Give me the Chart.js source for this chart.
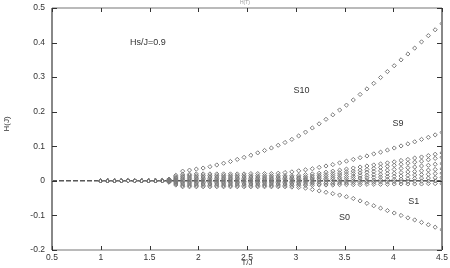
<!DOCTYPE html>
<html><head><meta charset="utf-8">
<script src="https://cdn.jsdelivr.net/npm/chart.js@4/dist/chart.umd.min.js"></script>
<style>html,body{margin:0;padding:0;background:#fff}#wrap{width:450px;height:268px}</style>
</head><body><div id="wrap"><canvas id="c" width="450" height="268"></canvas></div>
<script>
const T = [1.00,1.07,1.14,1.21,1.28,1.35,1.42,1.49,1.56,1.63,1.70,1.77,1.84,1.91,1.98,2.05,2.12,2.19,2.26,2.33,2.40,2.47,2.54,2.61,2.68,2.75,2.82,2.89,2.96,3.03,3.10,3.17,3.24,3.31,3.38,3.45,3.52,3.59,3.66,3.73,3.80,3.87,3.94,4.01,4.08,4.15,4.22,4.29,4.36,4.43,4.50];
const S10 = [0,0,0,0,0,0,0,0,0,0,0.005,0.016,0.028,0.031,0.034,0.037,0.041,0.046,0.051,0.056,0.062,0.068,0.074,0.081,0.088,0.095,0.103,0.111,0.12,0.13,0.141,0.153,0.165,0.178,0.191,0.205,0.219,0.234,0.25,0.266,0.282,0.299,0.316,0.333,0.35,0.367,0.384,0.402,0.42,0.437,0.455];
const S9 = [0,0,0,0,0,0,0,0,0,0,0.004,0.012,0.019,0.019,0.02,0.02,0.02,0.02,0.02,0.02,0.02,0.02,0.021,0.021,0.021,0.021,0.022,0.024,0.026,0.029,0.032,0.035,0.039,0.043,0.047,0.052,0.057,0.062,0.067,0.072,0.078,0.083,0.089,0.095,0.101,0.107,0.113,0.12,0.126,0.133,0.14];
const S8 = [0,0,0,0,0,0,0,0,0,0,0.003,0.009,0.014,0.015,0.015,0.015,0.015,0.015,0.015,0.015,0.015,0.015,0.015,0.015,0.015,0.015,0.015,0.015,0.015,0.016,0.018,0.02,0.022,0.025,0.028,0.031,0.034,0.037,0.04,0.043,0.046,0.049,0.052,0.055,0.059,0.062,0.066,0.069,0.073,0.077,0.081];
const S7 = [0,0,0,0,0,0,0,0,0,0,0.002,0.007,0.011,0.011,0.011,0.011,0.011,0.011,0.011,0.011,0.011,0.011,0.011,0.011,0.011,0.011,0.011,0.011,0.011,0.011,0.012,0.014,0.016,0.018,0.021,0.023,0.026,0.028,0.031,0.033,0.036,0.039,0.042,0.045,0.048,0.051,0.054,0.057,0.061,0.065,0.068];
const S6 = [0,0,0,0,0,0,0,0,0,0,0.001,0.004,0.007,0.007,0.007,0.007,0.007,0.007,0.007,0.007,0.007,0.007,0.007,0.007,0.007,0.007,0.007,0.007,0.007,0.007,0.008,0.009,0.011,0.013,0.015,0.017,0.019,0.021,0.023,0.025,0.027,0.029,0.031,0.033,0.036,0.038,0.04,0.043,0.045,0.048,0.05];
const S5 = [0,0,0,0,0,0,0,0,0,0,0.001,0.002,0.003,0.003,0.003,0.003,0.003,0.003,0.003,0.003,0.003,0.003,0.003,0.003,0.003,0.003,0.003,0.003,0.003,0.003,0.004,0.005,0.006,0.007,0.009,0.01,0.012,0.013,0.015,0.016,0.018,0.019,0.021,0.022,0.024,0.026,0.027,0.029,0.031,0.033,0.035];
const S4 = [0,0,0,0,0,0,0,0,0,0,0,-0.001,-0.001,-0.001,-0.001,-0.001,-0.001,-0.001,-0.001,-0.001,-0.001,-0.001,-0.001,-0.001,-0.001,-0.001,-0.001,-0.001,-0.001,-0.001,0,0.001,0.002,0.003,0.004,0.005,0.006,0.007,0.008,0.009,0.01,0.011,0.012,0.013,0.014,0.016,0.017,0.018,0.019,0.021,0.022];
const S3 = [0,0,0,0,0,0,0,0,0,0,-0.001,-0.003,-0.005,-0.005,-0.005,-0.005,-0.005,-0.005,-0.005,-0.005,-0.005,-0.005,-0.005,-0.005,-0.005,-0.005,-0.005,-0.005,-0.005,-0.005,-0.004,-0.004,-0.003,-0.003,-0.002,-0.001,-0.001,0,0.001,0.001,0.002,0.003,0.004,0.004,0.005,0.006,0.007,0.008,0.008,0.009,0.01];
const S2 = [0,0,0,0,0,0,0,0,0,0,-0.002,-0.006,-0.009,-0.009,-0.009,-0.009,-0.009,-0.009,-0.009,-0.009,-0.009,-0.009,-0.009,-0.009,-0.009,-0.009,-0.009,-0.009,-0.009,-0.009,-0.009,-0.008,-0.008,-0.007,-0.007,-0.006,-0.006,-0.005,-0.005,-0.004,-0.004,-0.003,-0.003,-0.002,-0.002,-0.002,-0.001,-0.001,-0.001,0,0];
const S1 = [0,0,0,0,0,0,0,0,0,0,-0.003,-0.009,-0.013,-0.013,-0.013,-0.013,-0.013,-0.013,-0.013,-0.013,-0.013,-0.013,-0.013,-0.013,-0.013,-0.013,-0.013,-0.013,-0.013,-0.013,-0.013,-0.013,-0.012,-0.012,-0.012,-0.011,-0.011,-0.011,-0.011,-0.01,-0.01,-0.01,-0.01,-0.009,-0.009,-0.009,-0.009,-0.009,-0.008,-0.008,-0.008];
const S0 = [0,0,0,0,0,0,0,0,0,0,-0.004,-0.012,-0.017,-0.017,-0.017,-0.017,-0.017,-0.017,-0.017,-0.017,-0.017,-0.017,-0.017,-0.017,-0.017,-0.017,-0.017,-0.017,-0.018,-0.019,-0.021,-0.025,-0.029,-0.033,-0.037,-0.041,-0.046,-0.051,-0.058,-0.065,-0.072,-0.079,-0.086,-0.093,-0.1,-0.107,-0.113,-0.12,-0.127,-0.134,-0.141];
const SERIES = [S0,S1,S2,S3,S4,S5,S6,S7,S8,S9,S10];
const X_TICKS = [0.5,1,1.5,2,2.5,3,3.5,4,4.5];
const Y_TICKS = [-0.2,-0.1,0,0.1,0.2,0.3,0.4,0.5];
const ZERO_LINE_X = [0.5,4.5];
const NOTES = [
  {text:'Hs/J=0.9', x:1.3, y:0.40, align:'left'},
  {text:'S10', x:3.06, y:0.262, align:'center'},
  {text:'S9', x:4.05, y:0.165, align:'center'},
  {text:'S1', x:4.21, y:-0.06, align:'center'},
  {text:'S0', x:3.5, y:-0.107, align:'center'}
];

const FONT = 'Liberation Sans, Arial, sans-serif';
const datasets = SERIES.map((s,i)=>({
  type:'scatter', label:'S'+i,
  data: T.map((t,k)=>({x:t,y:s[k]})),
  pointStyle:'rectRot', pointRadius:2.1, borderWidth:1,
  borderColor:'#7a7a7a', backgroundColor:'rgba(255,255,255,0)'
}));
datasets.push({
  type:'line', label:'zero', data: ZERO_LINE_X.map(x=>({x:x,y:0})),
  borderColor:'#000', borderWidth:1, borderDash:[5,2], pointRadius:0, fill:false
});

const framePlugin = {
  id:'frame',
  afterDraw(chart){
    const {ctx, chartArea:a, scales:{x,y}} = chart;
    ctx.save();
    ctx.strokeStyle='#777'; ctx.lineWidth=1.2;
    ctx.beginPath();
    ctx.moveTo(a.left,a.top); ctx.lineTo(a.right,a.top);
    ctx.moveTo(a.left,a.bottom); ctx.lineTo(a.right,a.bottom);
    ctx.stroke();
    ctx.lineWidth=2; ctx.strokeStyle='#888';
    ctx.beginPath();
    ctx.moveTo(a.left,a.top); ctx.lineTo(a.left,a.bottom);
    ctx.moveTo(a.right,a.top); ctx.lineTo(a.right,a.bottom);
    ctx.stroke();
    ctx.lineWidth=1; ctx.strokeStyle='#333';
    ctx.beginPath();
    X_TICKS.forEach(v=>{const px=Math.round(x.getPixelForValue(v))+0.5;
      ctx.moveTo(px,a.bottom); ctx.lineTo(px,a.bottom-4);
      ctx.moveTo(px,a.top); ctx.lineTo(px,a.top+4);});
    Y_TICKS.forEach(v=>{const py=Math.round(y.getPixelForValue(v))+0.5;
      ctx.moveTo(a.left,py); ctx.lineTo(a.left+5,py);
      ctx.moveTo(a.right,py); ctx.lineTo(a.right-5,py);});
    ctx.stroke();
    ctx.fillStyle='#333'; ctx.font='9px '+FONT; ctx.textBaseline='middle';
    NOTES.forEach(n=>{ctx.textAlign=n.align;
      ctx.fillText(n.text, x.getPixelForValue(n.x), y.getPixelForValue(n.y));});
    ctx.font='8px '+FONT;
    ctx.textAlign='center';
    ctx.fillText('T/J', (a.left+a.right)/2, 263);
    ctx.save(); ctx.translate(7,(a.top+a.bottom)/2-5); ctx.rotate(-Math.PI/2);
    ctx.fillText('H(J)',0,0); ctx.restore();
    ctx.fillStyle='#999'; ctx.font='5px '+FONT;
    ctx.fillText('H(T)', 245, 3);
    ctx.restore();
  }
};

new Chart(document.getElementById('c'), {
  data:{datasets},
  options:{
    responsive:false, animation:false, events:[],
    layout:{padding:{top:8,right:8,left:0,bottom:0}},
    plugins:{legend:{display:false}, tooltip:{enabled:false}},
    scales:{
      x:{type:'linear', min:0.5, max:4.5,
        afterBuildTicks(s){ s.ticks = X_TICKS.map(v=>({value:v})); },
        afterFit(s){ s.height=18; s.paddingLeft=0; s.paddingRight=0; },
        grid:{display:false, drawTicks:false}, border:{display:false},
        ticks:{padding:3, color:'#333', font:{size:8.5, family:FONT}, maxRotation:0,
          callback:v=>String(v)}},
      y:{type:'linear', min:-0.2, max:0.5,
        afterBuildTicks(s){ s.ticks = Y_TICKS.map(v=>({value:v})); },
        afterFit(s){ s.width=52; s.paddingTop=0; s.paddingBottom=0; },
        grid:{display:false, drawTicks:false}, border:{display:false},
        ticks:{padding:7, color:'#333', font:{size:8.5, family:FONT},
          callback:v=>String(Math.round(v*10)/10)}}
    }
  },
  plugins:[framePlugin]
});
</script></body></html>
